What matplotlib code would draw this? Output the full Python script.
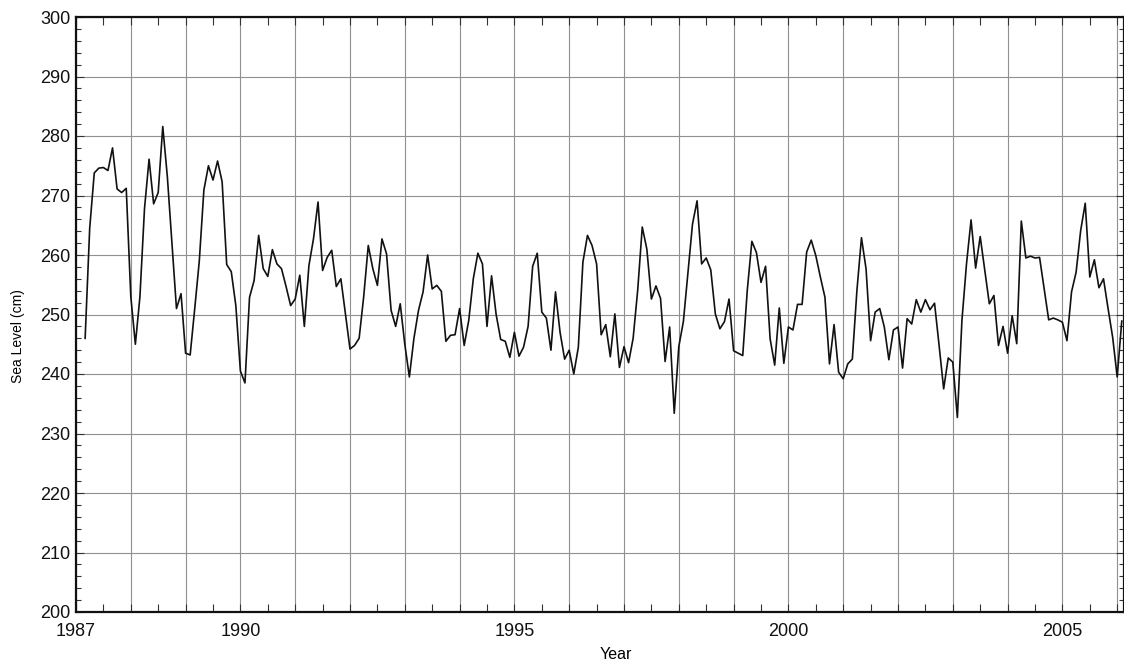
import numpy as np
import matplotlib
matplotlib.use("Agg")
import matplotlib.pyplot as plt
from matplotlib.ticker import MultipleLocator, FuncFormatter

plt.rcParams["font.family"] = ["Liberation Sans", "DejaVu Sans"]

# ---------------------------------------------------------------------------
# Monthly mean sea level (cm), series starts March 1987
# ---------------------------------------------------------------------------
START_YEAR = 1987
START_MONTH = 3

y1987 = [246.0, 264.5, 273.8, 274.6, 274.7, 274.2, 278.0, 271.1, 270.5, 271.2]
y1988 = [253.0, 245.0, 253.0, 267.8, 276.1, 268.6, 270.5, 281.6, 273.2, 262.0, 251.0, 253.5]
y1989 = [243.5, 243.2, 251.0, 259.0, 270.9, 275.0, 272.6, 275.8, 272.3, 258.4, 257.2, 251.5]
y1990 = [240.5, 238.5, 252.9, 255.7, 263.3, 257.7, 256.4, 260.9, 258.5, 257.7, 254.7, 251.5]
y1991 = [252.6, 256.6, 248.0, 258.2, 262.7, 268.9, 257.4, 259.6, 260.8, 254.7, 256.0, 250.1]
y1992 = [244.2, 244.8, 246.0, 253.0, 261.6, 257.7, 254.9, 262.7, 260.2, 250.7, 248.0, 251.8]
y1993 = [245.0, 239.5, 246.0, 250.7, 253.8, 260.0, 254.3, 254.9, 253.9, 245.5, 246.5, 246.6]
y1994 = [251.0, 244.8, 249.0, 256.0, 260.3, 258.5, 248.0, 256.5, 250.0, 245.8, 245.5, 242.8]
y1995 = [247.0, 243.0, 244.5, 248.0, 258.1, 260.3, 250.4, 249.4, 244.0, 253.8, 247.0, 242.5]
y1996 = [244.0, 240.0, 244.5, 258.8, 263.3, 261.6, 258.5, 246.6, 248.3, 242.9, 250.1, 241.1]
y1997 = [244.6, 241.9, 246.0, 254.1, 264.7, 261.0, 252.6, 254.8, 252.7, 242.1, 247.9, 233.4]
y1998 = [244.6, 248.8, 257.0, 265.2, 269.1, 258.5, 259.5, 257.5, 250.1, 247.6, 248.8, 252.6]
y1999 = [243.9, 243.5, 243.1, 254.1, 262.3, 260.4, 255.4, 258.1, 245.9, 241.5, 251.1, 241.8]
y2000 = [247.9, 247.4, 251.7, 251.7, 260.5, 262.5, 259.9, 256.3, 252.9, 241.7, 248.3, 240.3]
y2001 = [239.2, 241.7, 242.5, 254.0, 262.9, 257.7, 245.6, 250.4, 251.0, 247.9, 242.4, 247.4]
y2002 = [247.9, 241.0, 249.3, 248.4, 252.5, 250.4, 252.5, 250.8, 251.9, 244.8, 237.5, 242.7]
y2003 = [242.0, 232.7, 249.0, 258.5, 265.9, 257.8, 263.1, 257.5, 251.8, 253.2, 244.8, 248.0]
y2004 = [243.5, 249.8, 245.1, 265.7, 259.5, 259.8, 259.5, 259.6, 254.3, 249.1, 249.4, 249.1]
y2005 = [248.7, 245.6, 253.8, 257.1, 264.1, 268.7, 256.3, 259.2, 254.5, 256.0, 251.0, 246.2]
y2006 = [239.5, 248.9]

sea_level = np.array(y1987 + y1988 + y1989 + y1990 + y1991 + y1992 + y1993
                     + y1994 + y1995 + y1996 + y1997 + y1998 + y1999 + y2000
                     + y2001 + y2002 + y2003 + y2004 + y2005 + y2006)
t = START_YEAR + (START_MONTH - 1 + np.arange(len(sea_level))) / 12.0

year_labels = [1987, 1990, 1995, 2000, 2005]

# ---------------------------------------------------------------------------
# Plot
# ---------------------------------------------------------------------------
W, H = 1124, 664
fig = plt.figure(figsize=(W / 100, H / 100), dpi=100)
ax = fig.add_axes([76 / W, 1 - 612 / H, 1 - 76 / W, (612 - 17) / H])

ax.plot(t, sea_level, color="#111111", lw=1.2)

ax.set_xlim(1987, 1987 + 1048 / 54.8)
ax.set_ylim(200, 300)

ax.xaxis.set_major_locator(MultipleLocator(1))
ax.xaxis.set_minor_locator(MultipleLocator(0.5))
ax.xaxis.set_major_formatter(
    FuncFormatter(lambda v, p: f"{int(round(v))}" if int(round(v)) in year_labels else ""))
ax.yaxis.set_major_locator(MultipleLocator(10))
ax.yaxis.set_minor_locator(MultipleLocator(2))

ax.grid(True, which="major", color="#909090", lw=0.8)
ax.tick_params(which="both", direction="in", top=True, right=True, colors="#333333",
               labelcolor="#111111", labelsize=13)
ax.tick_params(axis="x", which="both", length=5.8, width=0.8, pad=8)
ax.tick_params(axis="y", which="minor", length=3.4, width=0.8)
ax.tick_params(axis="y", which="major", length=5.8, width=0.8, pad=4)

for side in ["left", "bottom", "top", "right"]:
    ax.spines[side].set_linewidth(1.6)
    ax.spines[side].set_color("#111111")

ax.set_xlabel("Year", fontsize=11.5)
ax.set_ylabel("Sea Level (cm)", fontsize=10)
ax.xaxis.set_label_coords((616 - 76) / (W - 76), -(647 - 612) / (612 - 17))
ax.yaxis.set_label_coords(-(76 - 11) / (W - 76), (612 - 336) / (612 - 17))
ax.yaxis.label.set_va("top")

fig.savefig("out.png", dpi=100)
